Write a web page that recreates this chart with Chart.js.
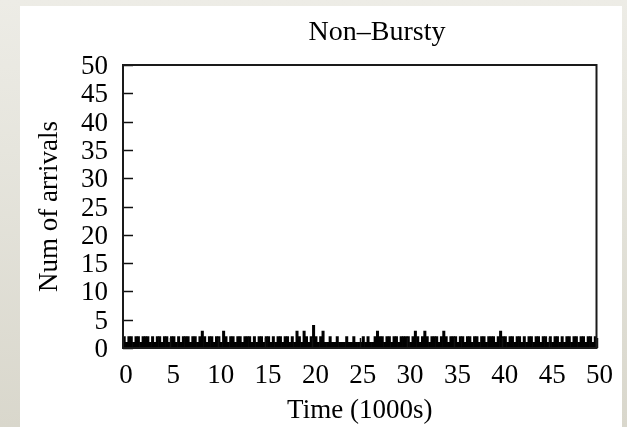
<!DOCTYPE html>
<html>
<head>
<meta charset="utf-8">
<script src="https://cdn.jsdelivr.net/npm/chart.js@4.4.1/dist/chart.umd.min.js"></script>
<style>
  html, body { margin: 0; padding: 0; }
  body {
    width: 627px; height: 427px; overflow: hidden; position: relative;
    background: linear-gradient(180deg, #edece6 0%, #e6e5dd 35%, #d9d7cc 100%);
  }
  #panel { position: absolute; left: 20px; top: 6px; width: 602px; height: 421px; background: #fff; }
  canvas { display: block; }
</style>
</head>
<body>
<div id="panel"><canvas id="c" width="602" height="421"></canvas></div>
<script>
// arrivals per 250 s bin (20 bins per 5000 s)
const arrivals = [
  2,1,2,2,1,2,2,1,2,2,2,1,2,1,2,2,1,2,2,1,
  2,2,1,2,1,2,2,2,1,2,2,1,2,3,2,1,2,2,1,2,
  2,1,3,2,1,2,2,1,2,2,1,2,2,2,1,2,1,2,2,1,
  2,2,1,2,1,2,2,1,2,2,1,2,1,3,2,1,3,2,1,2,
  4,2,1,2,3,1,1,2,1,1,2,1,1,1,2,1,1,2,1,1,
  1,2,1,2,1,1,2,3,2,2,1,2,2,1,2,2,1,2,2,2,
  2,1,2,3,2,1,2,3,2,1,2,2,2,1,2,3,2,1,2,2,
  2,1,2,2,1,2,2,1,2,2,1,2,2,1,2,2,2,1,2,3,
  2,2,1,2,2,1,2,2,1,2,1,2,2,1,2,2,1,2,2,1,
  2,1,2,2,1,2,1,2,2,1,2,2,1,2,2,1,2,2,1,2
];
const binWidth = 0.25; // thousands of seconds
const timeTicks = [0, 5, 10, 15, 20, 25, 30, 35, 40, 45, 50];
const countTicks = [0, 5, 10, 15, 20, 25, 30, 35, 40, 45, 50];

const points = arrivals.map((v, i) => ({ x: (i + 0.5) * binWidth, y: v }));
const serif = 'Liberation Serif';

const frame = {
  id: 'frame',
  afterDraw(chart) {
    const { ctx, chartArea: a, scales } = chart;
    ctx.save();
    ctx.strokeStyle = '#111';
    ctx.lineWidth = 1.5;
    scales.y.ticks.forEach(t => {
      const py = Math.round(scales.y.getPixelForValue(t.value)) + 0.5;
      ctx.beginPath(); ctx.moveTo(a.left, py); ctx.lineTo(a.left + 10, py); ctx.stroke();
    });
    scales.x.ticks.forEach(t => {
      const px = Math.round(scales.x.getPixelForValue(t.value)) + 0.5;
      ctx.beginPath(); ctx.moveTo(px, a.bottom); ctx.lineTo(px, a.bottom - 10); ctx.stroke();
    });
    ctx.lineWidth = 2;
    ctx.strokeStyle = '#1a1a1a';
    ctx.strokeRect(a.left, a.top, a.right - a.left, a.bottom - a.top);
    ctx.fillStyle = '#000';
    ctx.font = '28px "' + serif + '"';
    ctx.textAlign = 'center';
    ctx.textBaseline = 'alphabetic';
    ctx.fillText('Non\u2013Bursty', 357, 34);
    ctx.restore();
  }
};

new Chart(document.getElementById('c'), {
  type: 'bar',
  data: {
    datasets: [{
      data: points,
      backgroundColor: '#000',
      borderWidth: 0,
      barPercentage: 1,
      categoryPercentage: 1
    }]
  },
  options: {
    responsive: false,
    animation: false,
    layout: { padding: { left: 0, right: 25, top: 59, bottom: 0 } },
    plugins: { legend: { display: false }, tooltip: { enabled: false } },
    scales: {
      x: {
        type: 'linear',
        offset: false,
        min: 0,
        max: 50,
        afterBuildTicks: s => { s.ticks = timeTicks.map(v => ({ value: v })); },
        afterFit: s => { s.height = 79; },
        grid: { display: false, drawTicks: false, offset: false },
        border: { display: false },
        ticks: {
          autoSkip: false, maxRotation: 0, padding: 12, labelOffset: 3,
          color: '#000', font: { family: serif, size: 27 }
        },
        title: {
          display: true, text: 'Time (1000s)', color: '#000',
          font: { family: serif, size: 27 }, padding: { top: 0, bottom: 0 }
        }
      },
      y: {
        min: 0,
        max: 50,
        afterBuildTicks: s => { s.ticks = countTicks.map(v => ({ value: v })); },
        afterFit: s => { s.width = 103; },
        grid: { display: false, drawTicks: false },
        border: { display: false },
        ticks: {
          autoSkip: false, padding: 15, labelOffset: 2,
          color: '#000', font: { family: serif, size: 27 }
        },
        title: {
          display: true, text: 'Num of arrivals', color: '#000',
          font: { family: serif, size: 27 }, padding: { top: 14, bottom: 0 }
        }
      }
    }
  },
  plugins: [frame]
});
</script>
</body>
</html>
